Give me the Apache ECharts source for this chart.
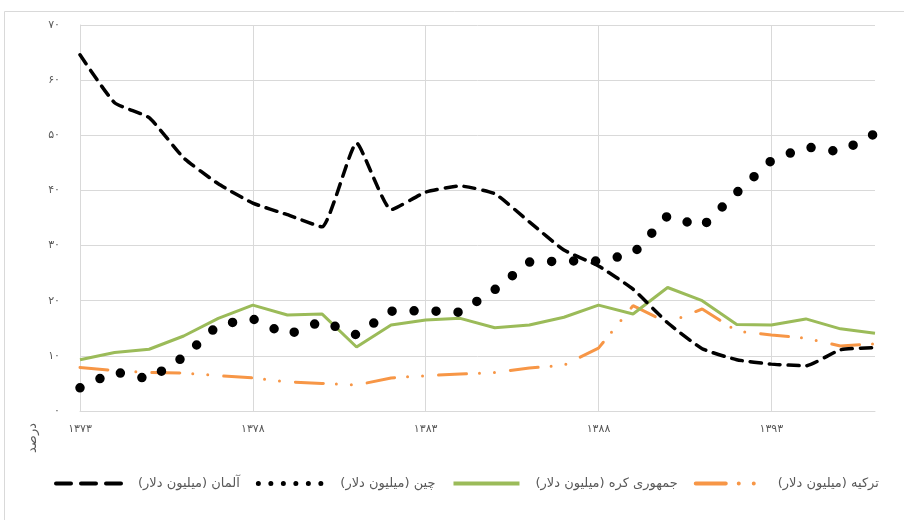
<!DOCTYPE html>
<html>
<head>
<meta charset="utf-8">
<script src="https://cdn.jsdelivr.net/npm/echarts@6/dist/echarts.min.js"></script>
<style>html,body{margin:0;padding:0;background:#fff}#c{width:904px;height:520px}</style>
</head>
<body>
<div id="c"></div>
<script>
var years = ['1373','1374','1375','1376','1377','1378','1379','1380','1381','1382','1383','1384','1385','1386','1387','1388','1389','1390','1391','1392','1393','1394','1395','1396'];
var germany = [64.6, 55.9, 53.2, 45.9, 41.2, 37.7, 35.6, 33.4, 48.6, 36.5, 39.7, 40.8, 39.4, 34.3, 29.2, 26.3, 22.1, 16.0, 11.3, 9.3, 8.5, 8.2, 11.1, 11.5];
var china = [4.2, 7.1, 5.8, 9.8, 15.6, 16.7, 13.8, 16.3, 13.8, 18.1, 18.2, 17.9, 22.0, 27.0, 27.2, 27.2, 28.5, 35.4, 33.4, 39.6, 45.4, 47.9, 47.0, 50.3];
var korea = [9.3, 10.6, 11.2, 13.6, 16.8, 19.2, 17.4, 17.6, 11.6, 15.6, 16.5, 16.8, 15.1, 15.6, 17.0, 19.2, 17.6, 22.4, 20.0, 15.7, 15.6, 16.7, 14.9, 14.1];
var turkey = [7.9, 7.35, 7.0, 6.9, 6.4, 6.0, 5.3, 5.0, 4.7, 6.0, 6.4, 6.7, 7.0, 7.8, 8.3, 11.4, 19.1, 16.0, 18.5, 14.5, 13.8, 13.2, 11.8, 12.2];
var seriesNames = ['آلمان (میلیون دلار)', 'چین (میلیون دلار)', 'جمهوری کره (میلیون دلار)', 'ترکیه (میلیون دلار)'];
var yTitle = 'درصد';

function fa(s) {
  return String(s).replace(/[0-9]/g, function (d) { return '۰۱۲۳۴۵۶۷۸۹'[+d]; });
}
var FONT = 'DejaVu Sans';
var chart = echarts.init(document.getElementById('c'), null, {renderer: 'canvas'});
chart.setOption({
  animation: false,
  backgroundColor: '#ffffff',
  grid: {left: 80, top: 25, right: 29, bottom: 109, containLabel: false},
  xAxis: {
    type: 'category',
    data: years,
    boundaryGap: false,
    axisLine: {lineStyle: {color: '#d9d9d9', width: 1}},
    axisTick: {show: false},
    axisLabel: {interval: 4, formatter: function (v) { return fa(v); }, color: '#595959', fontSize: 11, fontFamily: FONT, margin: 13},
    splitLine: {show: true, interval: 4, lineStyle: {color: '#d9d9d9', width: 1}}
  },
  yAxis: {
    type: 'value',
    min: 0, max: 70, interval: 10,
    axisLine: {show: true, lineStyle: {color: '#d9d9d9', width: 1}},
    axisTick: {show: false},
    axisLabel: {formatter: function (v) { return fa(v); }, color: '#595959', fontSize: 11, fontFamily: FONT, margin: 20},
    splitLine: {show: true, lineStyle: {color: '#d9d9d9', width: 1}}
  },
  legend: {
    left: 49, top: 472,
    itemGap: 16,
    itemWidth: 66, itemHeight: 10,
    itemStyle: {opacity: 0},
    textStyle: {color: '#595959', fontSize: 13, fontFamily: FONT, padding: [0, 0, 0, 11]},
    data: [
      {name: seriesNames[0], lineStyle: {width: 4, type: [15, 10], cap: 'round'}},
      {name: seriesNames[1], lineStyle: {width: 5, type: [0, 12.5], cap: 'round'}},
      {name: seriesNames[2], lineStyle: {width: 4}},
      {name: seriesNames[3], lineStyle: {width: 4, type: [30, 13, 0, 15, 0, 16], cap: 'round'}}
    ]
  },
  graphic: [
    {type: 'rect', shape: {x: 4.5, y: 11.5, width: 920, height: 540}, style: {fill: 'none', stroke: '#d9d9d9', lineWidth: 1}, z: -1},
    {type: 'text', x: 33, y: 438, rotation: Math.PI / 2, style: {text: yTitle, fill: '#595959', font: '13px "DejaVu Sans"', align: 'center', verticalAlign: 'middle'}}
  ],
  series: [
    {name: seriesNames[0], type: 'line', data: germany, symbol: 'none', smooth: 0.15,
      lineStyle: {color: '#000000', width: 3.5, type: [11, 8], cap: 'round'}, itemStyle: {color: '#000000'}, z: 4},
    {name: seriesNames[1], type: 'line', data: china, symbol: 'none',
      lineStyle: {color: '#000000', width: 9.5, type: [0, 22], cap: 'round'}, itemStyle: {color: '#000000'}, z: 5},
    {name: seriesNames[2], type: 'line', data: korea, symbol: 'none',
      lineStyle: {color: '#9bbb59', width: 3}, itemStyle: {color: '#9bbb59'}, z: 3},
    {name: seriesNames[3], type: 'line', data: turkey, symbol: 'none',
      lineStyle: {color: '#f79646', width: 3, type: [28, 13, 0, 15, 0, 16], cap: 'round'}, itemStyle: {color: '#f79646'}, z: 2}
  ]
});
</script>
</body>
</html>
